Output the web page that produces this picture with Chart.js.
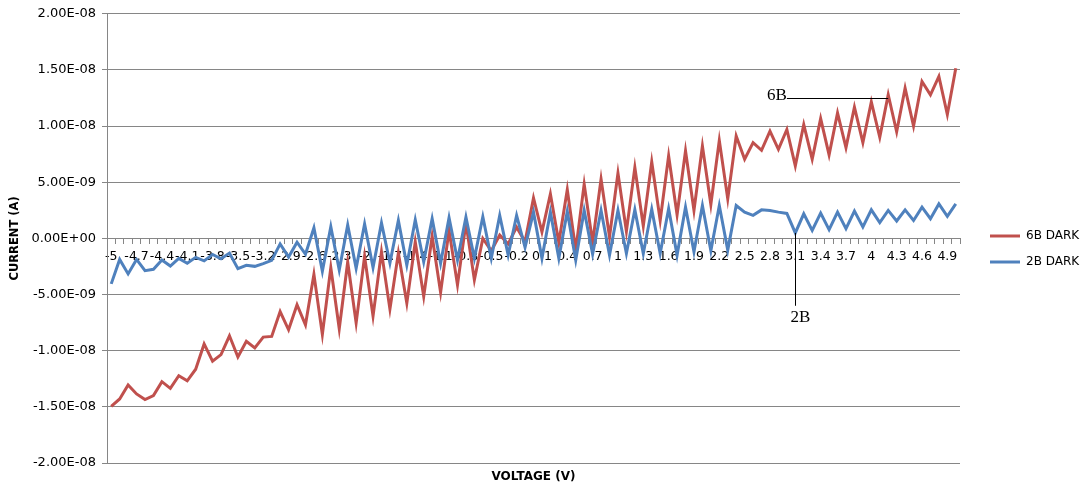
<!DOCTYPE html>
<html>
<head>
<meta charset="utf-8">
<title>6B / 2B dark current</title>
<script src="https://cdn.jsdelivr.net/npm/chart.js@4.4.1/dist/chart.umd.min.js"></script>
<style>
  html, body { margin: 0; padding: 0; background: #fff; }
  #wrap { width: 1084px; height: 488px; }
</style>
</head>
<body>
<div id="wrap"><canvas id="ivChart"></canvas></div>
<script>
// voltage steps (V)
const voltages = [
  '-5', '-4.9', '-4.8', '-4.7', '-4.6', '-4.5', '-4.4', '-4.3', '-4.2', '-4.1',
  '-4', '-3.9', '-3.8', '-3.7', '-3.6', '-3.5', '-3.4', '-3.3', '-3.2', '-3.1',
  '-3', '-2.9', '-2.8', '-2.7', '-2.6', '-2.5', '-2.4', '-2.3', '-2.2', '-2.1',
  '-2', '-1.9', '-1.8', '-1.7', '-1.6', '-1.5', '-1.4', '-1.3', '-1.2', '-1.1',
  '-1', '-0.9', '-0.8', '-0.7', '-0.6', '-0.5', '-0.4', '-0.3', '-0.2', '-0.1',
  '0', '0.1', '0.2', '0.3', '0.4', '0.5', '0.6', '0.7', '0.8', '0.9',
  '1', '1.1', '1.2', '1.3', '1.4', '1.5', '1.6', '1.7', '1.8', '1.9',
  '2', '2.1', '2.2', '2.3', '2.4', '2.5', '2.6', '2.7', '2.8', '2.9',
  '3', '3.1', '3.2', '3.3', '3.4', '3.5', '3.6', '3.7', '3.8', '3.9',
  '4', '4.1', '4.2', '4.3', '4.4', '4.5', '4.6', '4.7', '4.8', '4.9',
  '5'
];

// currents in nA (x 1e-9 A)
const dark6B = [
  -14.95, -14.3, -13.06, -13.85, -14.35, -14.0, -12.76, -13.35, -12.23, -12.68,
  -11.65, -9.4, -10.94, -10.35, -8.67, -10.56, -9.17, -9.76, -8.79, -8.73,
  -6.52, -8.14, -5.9, -7.7, -3.2, -8.55, -2.6, -8.05, -2.1, -7.52,
  -1.6, -6.93, -1.2, -6.3, -1.3, -5.76, -0.31, -5.17, 0.19, -4.81,
  0.72, -4.14, 1.37, -3.7, 0.0, -1.1, 0.3, -0.5, 1.0, -0.3,
  3.6, 0.57, 3.96, -0.37, 4.35, -1.04, 4.84, -0.37, 5.28, 0.13,
  5.81, 0.63, 6.32, 1.1, 6.82, 1.6, 7.35, 2.1, 7.79, 2.49,
  8.23, 3.02, 8.73, 3.52, 9.12, 7.05, 8.53, 7.85, 9.56, 7.93,
  9.7, 6.46, 10.14, 7.05, 10.67, 7.44, 11.17, 8.08, 11.68, 8.53,
  12.15, 9.0, 12.79, 9.5, 13.38, 10.0, 13.97, 12.79, 14.42, 11.03,
  15.15
];

const dark2B = [
  -4.05, -1.87, -3.16, -1.87, -2.87, -2.75, -1.93, -2.46, -1.78, -2.22,
  -1.69, -2.0, -1.43, -1.81, -1.31, -2.69, -2.4, -2.49, -2.25, -1.96,
  -0.49, -1.66, -0.34, -1.4, 0.95, -2.93, 1.05, -2.81, 1.2, -2.67,
  1.28, -2.6, 1.38, -2.2, 1.6, -2.37, 1.66, -2.08, 1.75, -2.22,
  1.84, -1.93, 1.9, -1.78, 1.93, -1.78, 2.05, -1.49, 2.05, -0.8,
  2.34, -1.78, 2.34, -1.78, 2.4, -1.93, 2.49, -1.4, 2.49, -1.49,
  2.5, -1.34, 2.55, -1.34, 2.6, -1.34, 2.65, -1.49, 2.78, -1.19,
  2.93, -1.1, 2.93, -1.04, 2.93, 2.34, 2.05, 2.54, 2.49, 2.34,
  2.22, 0.49, 2.19, 0.72, 2.25, 0.78, 2.34, 0.87, 2.43, 1.02,
  2.54, 1.4, 2.49, 1.55, 2.54, 1.6, 2.78, 1.75, 3.07, 1.96,
  3.07
];

const seriesNames = ['6B DARK', '2B DARK'];
const seriesColors = ['#C0504D', '#4F81BD'];

// y axis range / step in nA
const yMin = -20;
const yMax = 20;
const yStep = 5;

// callout labels: index into voltages, value in nA
const callout6B = { text: '6B', fromIndex: 80, toIndex: 92, value: 12.5 };
const callout2B = { text: '2B', index: 81, fromValue: dark2B[81], toValue: -6 };

const gridColor = '#868686';

// 2.00E-08 style labels
function sciLabel(nA) {
  const parts = (nA * 1e-9).toExponential(2).split('e');
  const exp = parseInt(parts[1], 10);
  return parts[0] + 'E' + (exp < 0 ? '-' : '+') + String(Math.abs(exp)).padStart(2, '0');
}

const calloutPlugin = {
  id: 'callouts',
  afterDatasetsDraw(chart) {
    const { ctx } = chart;
    const x = chart.scales.x;
    const y = chart.scales.y;
    ctx.save();
    ctx.strokeStyle = '#000';
    ctx.fillStyle = '#000';
    ctx.lineWidth = 1;
    ctx.font = '17px "Liberation Serif"';

    // 6B: horizontal leader line
    const x0 = x.getPixelForValue(callout6B.fromIndex);
    const x1 = x.getPixelForValue(callout6B.toIndex);
    const ly = Math.round(y.getPixelForValue(callout6B.value)) + 0.5;
    ctx.beginPath();
    ctx.moveTo(x0, ly);
    ctx.lineTo(x1, ly);
    ctx.stroke();
    ctx.textAlign = 'right';
    ctx.textBaseline = 'alphabetic';
    ctx.fillText(callout6B.text, x0, ly + 1);

    // 2B: vertical leader line
    const vx = Math.round(x.getPixelForValue(callout2B.index)) + 0.5;
    const vy0 = y.getPixelForValue(callout2B.fromValue);
    const vy1 = y.getPixelForValue(callout2B.toValue);
    ctx.beginPath();
    ctx.moveTo(vx, vy0);
    ctx.lineTo(vx, vy1);
    ctx.stroke();
    ctx.textAlign = 'left';
    ctx.textBaseline = 'top';
    ctx.fillText(callout2B.text, vx - 5, vy1 + 3);
    ctx.restore();
  }
};

Chart.defaults.font.family = '"DejaVu Sans", sans-serif';
Chart.defaults.font.size = 13;
Chart.defaults.color = '#000';

const ctx = document.getElementById('ivChart').getContext('2d');
new Chart(ctx, {
  type: 'line',
  data: {
    labels: voltages,
    datasets: [
      {
        label: seriesNames[0],
        data: dark6B,
        borderColor: seriesColors[0],
        backgroundColor: seriesColors[0],
        borderWidth: 3,
        pointRadius: 0,
        tension: 0,
        fill: false,
        order: 1,
        xAxisID: 'x',
        yAxisID: 'y'
      },
      {
        label: seriesNames[1],
        data: dark2B,
        borderColor: seriesColors[1],
        backgroundColor: seriesColors[1],
        borderWidth: 3,
        pointRadius: 0,
        tension: 0,
        fill: false,
        order: 0,
        xAxisID: 'x',
        yAxisID: 'y'
      }
    ]
  },
  options: {
    responsive: true,
    maintainAspectRatio: false,
    animation: false,
    devicePixelRatio: 1,
    layout: { padding: { top: 10, right: 0, bottom: 0, left: 0 } },
    plugins: {
      legend: {
        position: 'right',
        align: 'center',
        maxWidth: 108,
        labels: {
          usePointStyle: true,
          pointStyle: 'line',
          pointStyleWidth: 30,
          boxWidth: 30,
          font: { size: 12 },
          color: '#000',
          padding: 14,
          sort: (a, b) => a.datasetIndex - b.datasetIndex
        }
      },
      tooltip: { enabled: false }
    },
    scales: {
      x: {
        type: 'category',
        position: { y: 0 },
        offset: true,
        grid: {
          display: true,
          drawOnChartArea: false,
          drawTicks: true,
          tickLength: 5,
          offset: true,
          color: gridColor
        },
        border: { display: true, color: gridColor },
        ticks: {
          autoSkip: false,
          maxRotation: 0,
          minRotation: 0,
          padding: 6,
          font: { size: 12.5 },
          callback: (value, index) => (index % 3 === 0 ? voltages[index] : '')
        },
        afterFit: (scale) => { scale.height = 0; }
      },
      xTitle: {
        type: 'category',
        position: 'bottom',
        labels: voltages,
        ticks: { display: false },
        grid: { display: false },
        border: { display: false },
        title: {
          display: true,
          text: 'VOLTAGE (V)',
          font: { size: 12, weight: 'bold' },
          padding: { top: 4, bottom: 4 }
        },
        afterFit: (scale) => { scale.height = 25; }
      },
      y: {
        type: 'linear',
        position: 'left',
        min: yMin,
        max: yMax,
        ticks: {
          stepSize: yStep,
          padding: 6,
          callback: (value) => sciLabel(value)
        },
        grid: { color: gridColor, tickLength: 5 },
        border: { color: gridColor },
        title: {
          display: true,
          text: 'CURRENT (A)',
          font: { size: 11.5, weight: 'bold' },
          padding: { top: 8, bottom: 0 }
        },
        afterFit: (scale) => { scale.width = 107; }
      },
      yGap: {
        type: 'linear',
        position: 'right',
        ticks: { display: false },
        grid: { display: false },
        border: { display: false },
        afterFit: (scale) => { scale.width = 16; }
      }
    }
  },
  plugins: [calloutPlugin]
});
</script>
</body>
</html>
